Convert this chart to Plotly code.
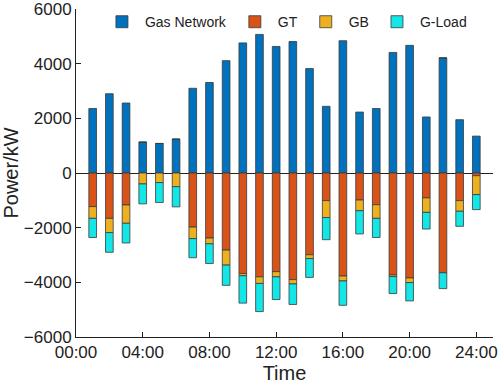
import plotly.graph_objects as go

hours = list(range(1, 25))
gas_network = [2360, 2900, 2560, 1130, 1080, 1240, 3100, 3310, 4110, 4760, 5070, 4630,
               4810, 3820, 2440, 4840, 2230, 2360, 4410, 4670, 2050, 4210, 1950, 1350]
gt = [-1230, -1660, -1170, 0, 0, 0, -1980, -2380, -2820, -3680, -3800, -3610,
      -3900, -2990, -1010, -3770, -990, -1160, -3730, -3840, -910, -3650, -1010, -100]
gb = [-430, -520, -670, -400, -350, -500, -420, -210, -550, -80, -240, -190,
      -160, -140, -620, -180, -390, -500, -60, -170, -530, 0, -390, -690]
g_load = [-700, -720, -720, -730, -730, -740, -700, -720, -740, -1000, -1030, -830,
          -750, -690, -810, -890, -850, -700, -620, -670, -610, -580, -550, -550]
tick_vals = [0, 4, 8, 12, 16, 20, 24]
tick_text = ["00:00", "04:00", "08:00", "12:00", "16:00", "20:00", "24:00"]
y_ticks = [-6000, -4000, -2000, 0, 2000, 4000, 6000]

series = [("Gas Network", gas_network, "#0072BD"),
          ("GT", gt, "#D95319"),
          ("GB", gb, "#EDB120"),
          ("G-Load", g_load, "#12E6E6")]

fig = go.Figure()
for name, vals, col in series:
    fig.add_trace(go.Bar(x=hours, y=vals, name=name, width=0.46,
                         marker=dict(color=col, line=dict(color="#3a3a3a", width=0.8))))

fig.update_layout(
    barmode="relative",
    width=498, height=385,
    margin=dict(l=76, r=5, t=9, b=48, autoexpand=False),
    plot_bgcolor="white", paper_bgcolor="white",
    font=dict(family="Liberation Sans, Arial, sans-serif", size=17, color="#222"),
    legend=dict(orientation="h", x=0.055, y=0.96, xanchor="left", yanchor="middle",
                font=dict(size=14), bgcolor="rgba(0,0,0,0)", itemwidth=36,
                traceorder="normal"),
    xaxis=dict(range=[0, 25], tickvals=tick_vals, ticktext=tick_text, automargin=False,
               showgrid=False, zeroline=False, showline=True, linecolor="#222", linewidth=1,
               ticks="inside", ticklen=5, tickcolor="#222", ticklabeloverflow="allow",
               title=dict(text="Time", standoff=4)),
    yaxis=dict(range=[-6000, 6000], tickvals=y_ticks,
               automargin=False,
               showgrid=False, zeroline=True, zerolinecolor="#222", zerolinewidth=1,
               showline=True, linecolor="#222", linewidth=1,
               ticks="inside", ticklen=5, tickcolor="#222", ticklabeloverflow="allow",
               title=dict(text="Power/kW", standoff=0)),
)

fig.write_html("out.html", config={"displayModeBar": False},
               post_script="document.body.style.margin='0';document.body.style.overflow='hidden';")
